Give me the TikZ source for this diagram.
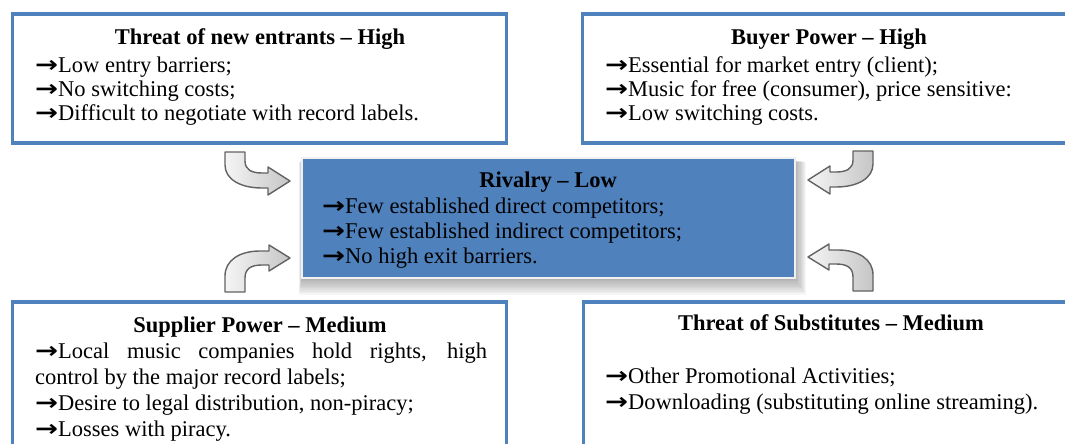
\documentclass[tikz,border=0pt]{standalone}
\usepackage{graphicx}
\usepackage{fontspec}
\setmainfont{Liberation Serif}
\newfontfamily\arrowfont{DejaVu Sans}
\usetikzlibrary{positioning,calc}

\definecolor{forceblue}{RGB}{79,129,189}
\definecolor{turnedge}{RGB}{98,98,98}
\newcommand{\boxfont}{\fontsize{22.5}{25}\selectfont}
\newcommand{\tarrow}{\scalebox{1.22}[1]{\arrowfont\bfseries →}}

\tikzset{
  force/.style={draw=forceblue, line width=3.2pt, anchor=north west, inner sep=0pt, outer sep=0pt},
  rival/.style={fill=forceblue, draw=gray!12, line width=2pt, anchor=north west, inner sep=0pt, outer sep=0pt},
  heading/.style={font=\boxfont\bfseries, anchor=base, inner sep=0pt},
  item/.style={anchor=base west, inner sep=0pt},
  turn/.style={draw=turnedge, line width=1.4pt, line join=round, left color=gray!8, right color=gray!45},
  % bent arrow coming down, tip at the origin
  dropturn/.pic={
    \draw[turn] (-65,-29) -- (-45,-29) -- (-45,-20) .. controls (-45,-11) and (-38,-8) .. (-28,-8)
      -- (-22,-8) -- (-22,-14) -- (0,0) -- (-22,14) -- (-22,7) -- (-28,7)
      .. controls (-50,7) and (-65,-2) .. (-65,-16) -- cycle;
  },
  % bent arrow coming up, tip at the origin
  riseturn/.pic={
    \draw[turn] (-65,34) -- (-65,18) .. controls (-65,2) and (-50,-7) .. (-30,-7)
      -- (-21,-7) -- (-21,-13) -- (0,0) -- (-21,13) -- (-21,7) -- (-28,7)
      .. controls (-38,7) and (-45,10) .. (-45,20) -- (-45,34) -- cycle;
  }
}

\begin{document}
\begin{tikzpicture}[x=1pt, y=-1pt, font=\boxfont]

\useasboundingbox (0,0) rectangle (1065,444);

% Outer boxes
\node[force, minimum width=494pt, minimum height=129pt] (entrants) at (12.5,14) {};
\node[force, minimum width=496pt, minimum height=129pt] (buyers) at (582.5,14) {};
\node[force, minimum width=494pt, minimum height=170pt] (suppliers) at (12.5,302) {};
\node[force, minimum width=496pt, minimum height=170pt] (substitutes) at (583.5,302) {};

% Shadow under the rivalry box
\foreach \d in {1,...,10}
{
  \fill[black, opacity=0.035] (302-0.3*\d, 160+0.2*\d) rectangle (795+1.1*\d, 278+1.7*\d);
}

% Rivalry box (centre)
\node[rival, minimum width=493pt, minimum height=120pt] (rivalry) at (302,158) {};

% Threat of new entrants
\node[heading] (entrants-title) at (260,45) {Threat of new entrants -- High};
\foreach \txt [count=\i] in {Low entry barriers;, No switching costs;, Difficult to negotiate with record labels.}
{
  \node[item] (entrants-\i) at (35,48+24*\i) {\tarrow\txt};
}

% Buyer power
\node[heading] (buyers-title) at (829,45) {Buyer Power -- High};
\foreach \txt [count=\i] in {{Essential for market entry (client);}, {Music for free (consumer), price sensitive:}, Low switching costs.}
{
  \node[item] (buyers-\i) at (605,48+24*\i) {\tarrow\txt};
}

% Rivalry
\node[heading] (rivalry-title) at (548,187) {Rivalry -- Low};
\foreach \txt [count=\i] in {Few established direct competitors;, Few established indirect competitors;, No high exit barriers.}
{
  \node[item] (rivalry-\i) at (322,188+25*\i) {\tarrow\txt};
}

% Supplier power
\node[heading] (suppliers-title) at (260,332) {Supplier Power -- Medium};
\node[item] (suppliers-1) at (35,358) {\makebox[452pt][s]{\tarrow Local music companies hold rights, high}};
\node[item] (suppliers-2) at (35,384) {control by the major record labels;};
\node[item] (suppliers-3) at (35,410) {\tarrow Desire to legal distribution, non-piracy;};
\node[item] (suppliers-4) at (35,436) {\tarrow Losses with piracy.};

% Threat of substitutes
\node[heading] (substitutes-title) at (831,330) {Threat of Substitutes -- Medium};
\foreach \txt [count=\i] in {Other Promotional Activities;, Downloading (substituting online streaming).}
{
  \node[item] (substitutes-\i) at (605,357+26*\i) {\tarrow\txt};
}

% Bent arrows into the rivalry box
\pic at ($(rivalry.north west)+(-12,23)$) {dropturn};
\pic at ($(rivalry.north west)+(-12,100)$) {riseturn};
\pic[xscale=-1] at ($(rivalry.north east)+(13,22)$) {dropturn};
\pic[xscale=-1] at ($(rivalry.north east)+(13,99)$) {riseturn};

\end{tikzpicture}
\end{document}
